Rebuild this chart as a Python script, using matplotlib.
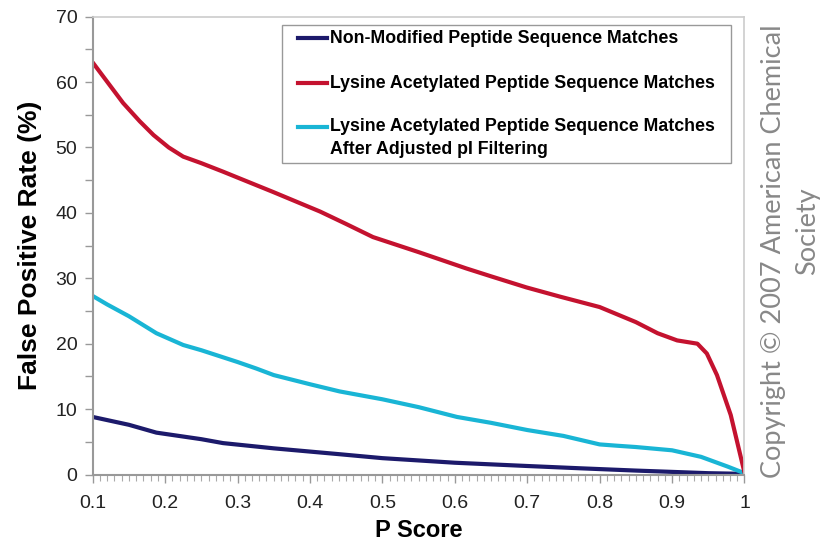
import matplotlib
matplotlib.use('Agg')
import matplotlib.pyplot as plt
from matplotlib.patches import Rectangle
from matplotlib.lines import Line2D
import numpy as np

# values
red_x = [0.10, 0.142, 0.165, 0.184, 0.205, 0.225, 0.25, 0.28, 0.30, 0.349,
         0.414, 0.45, 0.487, 0.55, 0.616, 0.65, 0.699, 0.745, 0.80,
         0.85, 0.88, 0.907, 0.935, 0.948, 0.962, 0.981, 1.00]
red_y = [63.0, 56.8, 54.0, 51.9, 50.0, 48.6, 47.6, 46.3, 45.4, 43.2,
         40.2, 38.3, 36.3, 34.0, 31.5, 30.3, 28.6, 27.2, 25.6,
         23.3, 21.6, 20.5, 20.0, 18.5, 15.2, 9.1, 0.3]

cyan_x = [0.10, 0.12, 0.15, 0.188, 0.225, 0.25, 0.30, 0.326, 0.35, 0.40, 0.441,
          0.50, 0.55, 0.603, 0.65, 0.70, 0.75, 0.80, 0.824, 0.85, 0.90,
          0.94, 0.977, 1.00]
cyan_y = [27.3, 26.0, 24.2, 21.6, 19.8, 19.0, 17.2, 16.2, 15.2, 13.8, 12.7,
          11.5, 10.3, 8.8, 7.9, 6.8, 5.9, 4.6, 4.4, 4.2, 3.7,
          2.7, 1.2, 0.2]

navy_x = [0.10, 0.15, 0.188, 0.25, 0.28, 0.35, 0.441, 0.50, 0.60, 0.70,
          0.773, 0.85, 0.90, 0.95, 1.00]
navy_y = [8.8, 7.6, 6.4, 5.4, 4.8, 4.0, 3.1, 2.5, 1.8, 1.3,
          0.95, 0.6, 0.4, 0.2, 0.1]

x_ticks = [0.1, 0.2, 0.3, 0.4, 0.5, 0.6, 0.7, 0.8, 0.9, 1.0]
x_tick_labels = ['0.1', '0.2', '0.3', '0.4', '0.5', '0.6', '0.7', '0.8', '0.9', '1']
y_ticks = [0, 10, 20, 30, 40, 50, 60, 70]

legend_labels = ['Non-Modified Peptide Sequence Matches',
                 'Lysine Acetylated Peptide Sequence Matches',
                 'Lysine Acetylated Peptide Sequence Matches',
                 'After Adjusted pI Filtering']

NAVY = '#1c1a6b'
RED = '#c4122f'
CYAN = '#19b5d5'

sans = ['Liberation Sans', 'DejaVu Sans']

fig = plt.figure(figsize=(8.23, 5.49), dpi=100)
ax = fig.add_axes([0.1126, 0.1357, 0.792, 0.834])

style = dict(lw=3.0, solid_capstyle='round', solid_joinstyle='round')
ax.plot(navy_x, navy_y, color=NAVY, **style)
ax.plot(cyan_x, cyan_y, color=CYAN, **style)
ax.plot(red_x, red_y, color=RED, **style)

ax.set_xlim(0.1, 1.0)
ax.set_ylim(0, 70)
ax.set_xticks(x_ticks)
ax.set_xticklabels(x_tick_labels, family=sans, fontsize=14, color='#222222')
ax.set_xticks(np.arange(0.1, 1.0, 0.01), minor=True)
ax.set_yticks(y_ticks)
ax.set_yticklabels([str(v) for v in y_ticks], family=sans, fontsize=14, color='#222222')
ax.set_yticks(np.arange(5, 70, 10), minor=True)
ax.tick_params(axis='x', which='major', length=6, width=1, color='#999999', pad=9)
ax.tick_params(axis='x', which='minor', length=4, width=0.8, color='#aaaaaa')
ax.tick_params(axis='y', which='major', length=6, width=1, color='#999999', pad=5)
ax.tick_params(axis='y', which='minor', length=6, width=1, color='#999999')

for side in ['left', 'bottom']:
    ax.spines[side].set_color('#999999')
    ax.spines[side].set_linewidth(1.5)
for side in ['top', 'right']:
    ax.spines[side].set_color('#cccccc')
    ax.spines[side].set_linewidth(1.2)

ax.set_xlabel('P Score', family=sans, fontsize=17, fontweight='bold', labelpad=5)
ax.set_ylabel('False Positive Rate (%)', family=sans, fontsize=19, fontweight='bold', labelpad=10)

# legend box drawn by hand so the wrapped label keeps its handle on the first line
ax.add_patch(Rectangle((0.290, 0.681), 0.690, 0.301, transform=ax.transAxes,
                       facecolor='white', edgecolor='#999999', lw=1.0, zorder=5))
rows = [(0.953, NAVY), (0.855, RED), (0.759, CYAN)]
for (yy, col), lab in zip(rows, legend_labels[:3]):
    ax.add_line(Line2D([0.315, 0.360], [yy, yy], transform=ax.transAxes,
                       color=col, lw=3, zorder=6))
    ax.text(0.364, yy, lab, transform=ax.transAxes, va='center', ha='left',
            family=sans, fontweight='bold', fontsize=12.8, zorder=6)
ax.text(0.364, 0.710, legend_labels[3], transform=ax.transAxes, va='center', ha='left',
        family=sans, fontweight='bold', fontsize=12.8, zorder=6)

fig.text(774 / 823, 1 - 251 / 549, 'Copyright \u00a9 2007 American Chemical',
         rotation=90, ha='center', va='center', family='Lato', fontsize=19.5,
         color='#888888')
fig.text(808 / 823, 1 - 231 / 549, 'Society', rotation=90, ha='center', va='center',
         family='Lato', fontsize=19.5, color='#888888')

fig.savefig('out.png', dpi=100)
